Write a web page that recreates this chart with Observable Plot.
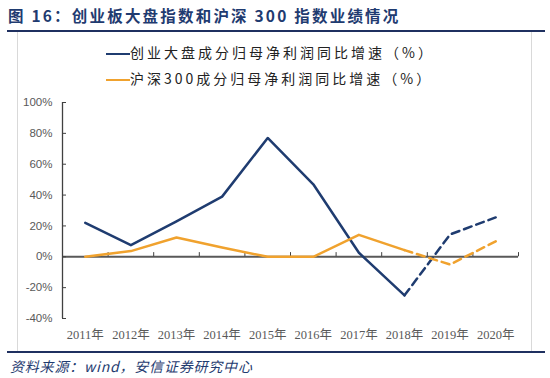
<!DOCTYPE html>
<html>
<head>
<meta charset="utf-8">
<script src="https://cdn.jsdelivr.net/npm/d3@7"></script>
<script src="https://cdn.jsdelivr.net/npm/@observablehq/plot@0.6"></script>
<style>
  body { margin: 0; background: #fff; }
  #wrap { position: relative; width: 550px; height: 378px; overflow: hidden; background: #fff; font-family: "Noto Sans CJK SC", sans-serif; }
  #title { position: absolute; left: 8px; top: 4px; font-size: 15.5px; font-weight: bold; color: #1f3b70; letter-spacing: 2.2px; white-space: nowrap; }
  #topline { position: absolute; left: 7px; width: 538px; top: 30px; height: 2px; background: #1f3060; }
  #box { position: absolute; left: 17px; top: 32px; width: 515px; height: 320px; border-left: 1px solid #d9d9d9; border-right: 1px solid #d9d9d9; box-sizing: border-box; }
  #botline { position: absolute; left: 7px; width: 538px; top: 351px; height: 2px; background: #1f3060; }
  #foot { position: absolute; left: 10px; top: 356px; font-size: 14px; font-style: italic; color: #1f3b70; white-space: nowrap; letter-spacing: 0.8px; }
  #plot { position: absolute; left: 0; top: 0; }
  .leg { position: absolute; font-size: 14px; color: #222; white-space: nowrap; letter-spacing: 3px; }
  .leg .sw { display: inline-block; width: 24px; height: 2.5px; vertical-align: middle; margin-right: 0px; }
</style>
</head>
<body>
<div id="wrap">
  <div id="box"></div>
  <div id="plot"></div>
  <div id="title"></div>
  <div id="topline"></div>
  <div id="botline"></div>
  <div id="foot"></div>
  <div id="leg1" class="leg"></div>
  <div id="leg2" class="leg"></div>
</div>
<script>
const titleText = "图 16：创业板大盘指数和沪深 300 指数业绩情况";
const footText = "资料来源：wind，安信证券研究中心";
const seriesNames = ["创业大盘成分归母净利润同比增速（%）", "沪深300成分归母净利润同比增速（%）"];
const seriesColors = ["#1f3c70", "#f0a22e"];
const years = [2011, 2012, 2013, 2014, 2015, 2016, 2017, 2018, 2019, 2020];
const cybGrowth = [22, 7.5, 23, 39, 77, 47, 2.6, -25, 14.5, 25.5];
const hs300Growth = [0, 3.7, 12.5, 6, 0, 0, 14.2, 4.3, -5, 10];
const yTicks = [-40, -20, 0, 20, 40, 60, 80, 100];
const lastActualYear = 2018;

document.getElementById("title").textContent = titleText;
document.getElementById("foot").textContent = footText;

const rows = [];
[cybGrowth, hs300Growth].forEach((vals, s) => {
  years.forEach((yr, i) => rows.push({series: seriesNames[s], s, year: yr, value: vals[i]}));
});
const actual = rows.filter(d => d.year <= lastActualYear);
const forecast = rows.filter(d => d.year >= lastActualYear);
const boundaries = d3.range(years[0] - 0.5, years[years.length - 1] + 1, 1);

const chart = Plot.plot({
  width: 550,
  height: 378,
  marginLeft: 62,
  marginRight: 32,
  marginTop: 102,
  marginBottom: 60,
  style: {background: "transparent", overflow: "visible"},
  x: {type: "linear", domain: [years[0] - 0.5, years[years.length - 1] + 0.5], label: null},
  y: {domain: [-40, 100], label: null},
  marks: [
    Plot.ruleY([0], {stroke: "#595959", strokeWidth: 2}),
    Plot.ruleX(boundaries.slice(1), {y1: 0, y2: 2.7, stroke: "#404040", strokeWidth: 1}),
    Plot.ruleX([boundaries[0]], {stroke: "#404040", strokeWidth: 1.3}),
    Plot.axisY({
      ticks: yTicks, tickFormat: d => d + "%", tickSize: -4, tickPadding: 14, label: null,
      stroke: "#404040", fill: "#595959", fontSize: 11.5, fontFamily: "Liberation Sans, Arial, sans-serif"
    }),
    Plot.axisX({
      ticks: years, tickFormat: d => d + "年", tickSize: 0, tickPadding: 12, label: null,
      fill: "#595959", fontSize: 12.5, fontFamily: "Liberation Serif, Noto Sans CJK SC, serif"
    }),
    Plot.line(actual, {x: "year", y: "value", z: "series", stroke: d => seriesColors[d.s], strokeWidth: 2.5}),
    Plot.line(forecast, {x: "year", y: "value", z: "series", stroke: d => seriesColors[d.s], strokeWidth: 2.5, strokeDasharray: "8,5"})
  ]
});
document.getElementById("plot").appendChild(chart);

[["leg1", 42, 0], ["leg2", 68, 1]].forEach(([id, top, s]) => {
  const el = document.getElementById(id);
  el.style.left = "106px";
  el.style.top = top + "px";
  el.innerHTML = `<span class="sw" style="background:${seriesColors[s]}"></span>`;
  el.appendChild(document.createTextNode(seriesNames[s]));
});
</script>
</body>
</html>
